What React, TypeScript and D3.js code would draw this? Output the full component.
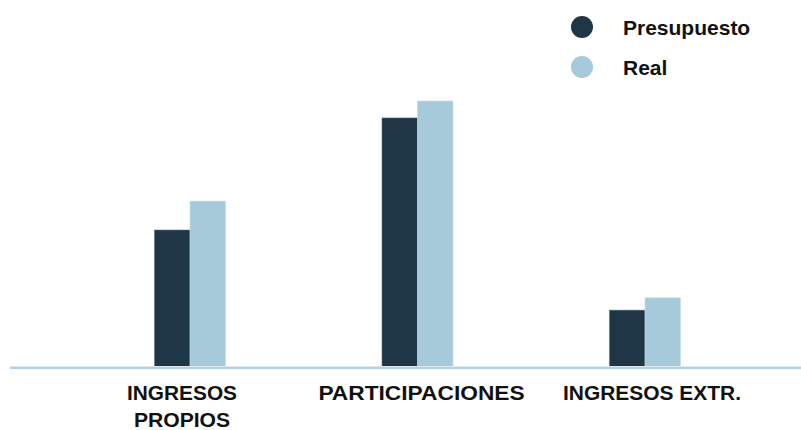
import React from "react";
import * as d3 from "d3";

const categories = ["INGRESOS PROPIOS", "PARTICIPACIONES", "INGRESOS EXTR."];
const labelLines = [["INGRESOS", "PROPIOS"], ["PARTICIPACIONES"], ["INGRESOS EXTR."]];
const presupuesto = [41.2, 74.9, 17.1];
const real = [49.9, 80.0, 20.8];
const seriesNames = ["Presupuesto", "Real"];
const seriesColors = ["#1f3647", "#a6cad9"];

const W = 801;
const H = 430;

// approximate rendered width factor to match the reference's wider letterforms
const widthOf = (s: string) => s.length * 13.75;

export default function App() {
  const x = d3.scaleBand<string>().domain(categories).range([76.25, 758.75]).paddingInner(0).paddingOuter(0);
  const baseline = 367;
  const y = d3.scaleLinear().domain([0, 80]).range([baseline, 101]);
  const barW = 35.5;
  const series = [presupuesto, real];
  const font = "'Liberation Sans', Arial, sans-serif";

  return (
    <svg width={W} height={H} style={{ position: "absolute", left: 0, top: 0, background: "#fff" }}>
      {categories.map((c, i) => {
        const cx = (x(c) as number) + x.bandwidth() / 2;
        return series.map((s, j) => (
          <rect
            key={c + j}
            x={cx - barW + j * barW}
            y={y(s[i])}
            width={barW}
            height={baseline - y(s[i])}
            fill={seriesColors[j]}
            stroke={j === 0 ? "#5b7080" : "#c6dde8"}
            strokeWidth={0.6}
          />
        ));
      })}
      <line x1={10} x2={W} y1={366.5} y2={366.5} stroke="#dce9f3" strokeWidth={1} />
      <line x1={10} x2={W} y1={368} y2={368} stroke="#b3cfe2" strokeWidth={2} />
      {categories.map((c, i) => {
        const cx = (x(c) as number) + x.bandwidth() / 2 + [-8, 4, 7][i];
        return labelLines[i].map((l, k) => (
          <text
            key={c + k}
            x={cx}
            y={400 + k * 27}
            textAnchor="middle"
            fontFamily={font}
            fontWeight="bold"
            fontSize={21}
            fill="#111"
            textLength={widthOf(l.replace(/[ .]/g, "")) + (l.includes(" ") ? 8 : 0) + (l.includes(".") ? 5 : 0)}
            lengthAdjust="spacingAndGlyphs"
          >
            {l}
          </text>
        ));
      })}
      {seriesNames.map((n, j) => (
        <g key={n} transform={`translate(0, ${27 + j * 40})`}>
          <circle cx={582} cy={0} r={11} fill={seriesColors[j]} />
          <text x={623} y={7.5} fontFamily={font} fontWeight="bold" fontSize={21} fill="#111">{n}</text>
        </g>
      ))}
    </svg>
  );
}
